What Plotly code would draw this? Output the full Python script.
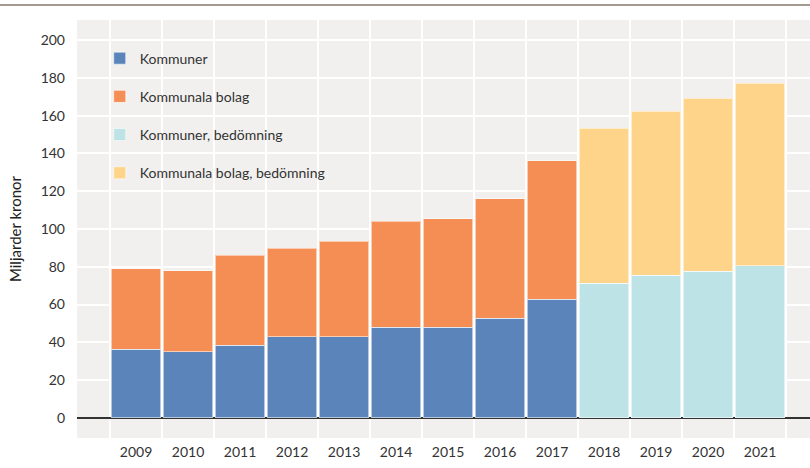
import plotly.graph_objects as go

years = [2009, 2010, 2011, 2012, 2013, 2014, 2015, 2016, 2017, 2018, 2019, 2020, 2021]
actual_years = years[:9]
forecast_years = years[9:]

kommuner = [36.5, 35.0, 38.6, 42.9, 42.9, 48.0, 48.0, 52.9, 62.8]
kommunala_bolag = [42.5, 42.8, 47.6, 46.9, 50.6, 56.2, 57.3, 63.0, 73.2]
kommuner_bed = [71.3, 75.5, 77.6, 80.6]
bolag_bed = [82.0, 86.9, 91.7, 96.6]

tick_labels = [str(y) for y in years]
y_ticks = list(range(0, 201, 20))

names = ["Kommuner", "Kommunala bolag", "Kommuner, bedömning", "Kommunala bolag, bedömning"]
colors = ["#5B85BA", "#F58E55", "#BDE3E6", "#FDD48A"]

FONT = "Lato"
fig = go.Figure()
series = [(actual_years, kommuner), (actual_years, kommunala_bolag),
          (forecast_years, kommuner_bed), (forecast_years, bolag_bed)]
for i, ((xs, vals), name, col) in enumerate(zip(series, names, colors)):
    fig.add_trace(go.Bar(
        x=xs, y=vals, name=name, legendgroup=name,
        marker=dict(color=col, line=dict(color="rgba(255,255,255,0.55)", width=1)),
        hoverinfo="x+y+name",
    ))

fig.update_layout(
    width=810, height=468,
    barmode="stack", bargap=0.05,
    paper_bgcolor="white", plot_bgcolor="#F1F0EE",
    margin=dict(l=77, r=0, t=20, b=30, autoexpand=False),
    font=dict(family=FONT, size=14, color="#333333"),
    showlegend=True,
    legend=dict(x=0.031, y=0.946, xanchor="left", yanchor="top",
                bgcolor="rgba(0,0,0,0)", traceorder="grouped",
                tracegroupgap=17, font=dict(size=14, color="#333333")),
    xaxis=dict(
        range=[2007.865, 2021.96], automargin=False,
        tickmode="array", tickvals=years, ticktext=tick_labels,
        showgrid=False, ticks="", zeroline=False, showline=False,
        ticklabelstandoff=4,
        tickfont=dict(size=14, color="#333333"),
        minor=dict(tickvals=[y - 0.5 for y in years] + [years[-1] + 0.5],
                   showgrid=True, gridcolor="white", gridwidth=2, ticks=""),
    ),
    yaxis=dict(
        range=[-10.6, 210.6], automargin=False,
        tickmode="array", tickvals=y_ticks,
        showgrid=True, gridcolor="white", gridwidth=2,
        zeroline=True, zerolinecolor="#333333", zerolinewidth=1.5,
        ticks="", ticklabelstandoff=11,
        tickfont=dict(size=14, color="#333333"),
        title=dict(text="Miljarder kronor", font=dict(size=15, color="#222222")),
    ),
    shapes=[dict(type="line", xref="paper", yref="paper", x0=-0.11, x1=1.0,
                 y0=1.036, y1=1.036, line=dict(color="#A39A92", width=2))],
)

fig.write_html(
    "out.html",
    config={"displayModeBar": False},
    post_script="document.body.style.margin='0';document.body.style.overflow='hidden';"
                "document.documentElement.style.overflow='hidden';",
)
